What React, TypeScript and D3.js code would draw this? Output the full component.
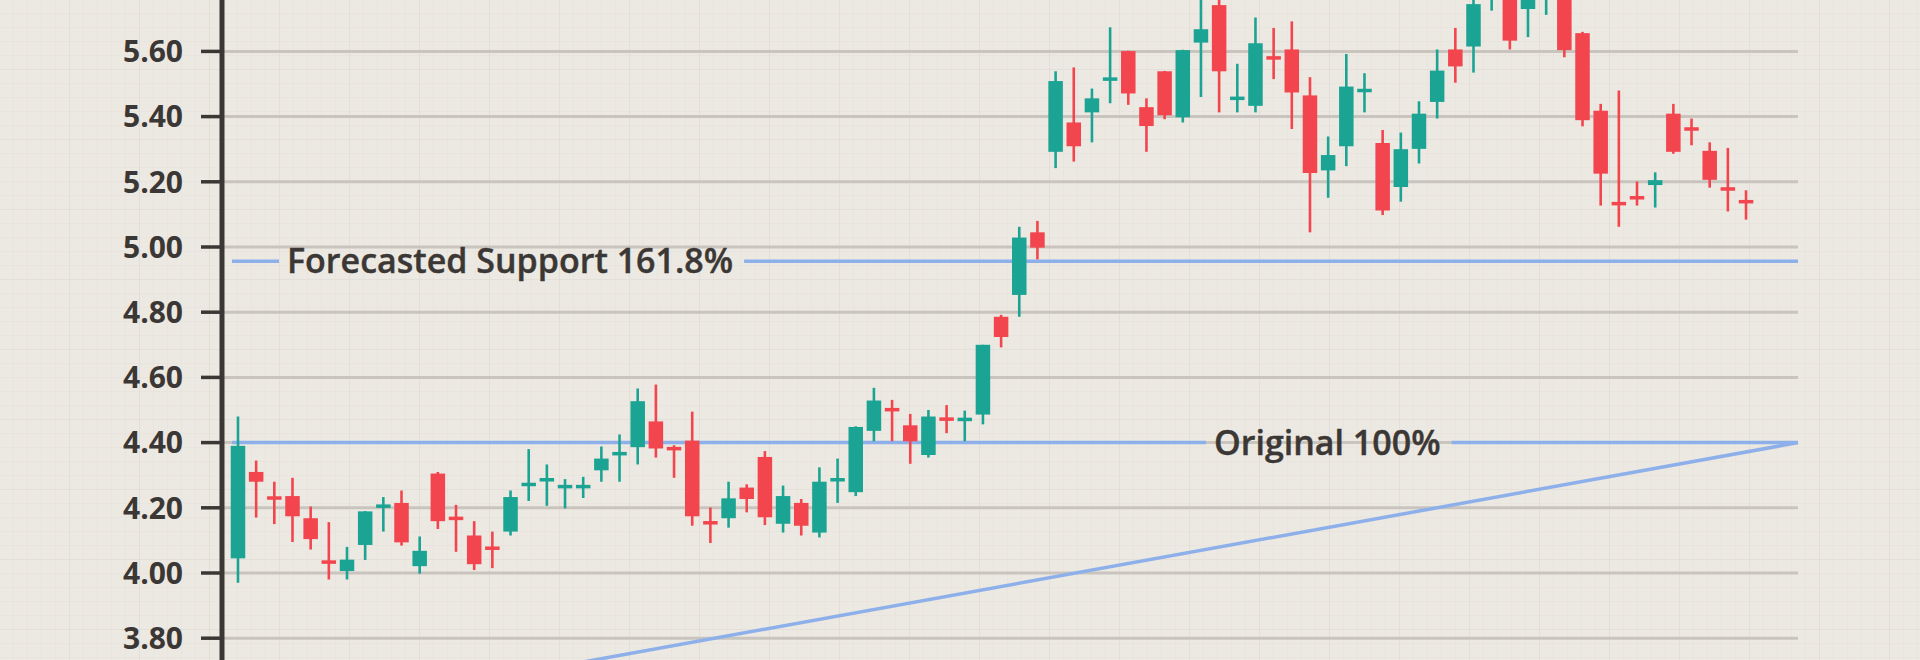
import React, { useLayoutEffect, useRef, useState } from "react";
import * as d3 from "d3";

// ---- data ----
const opens = [
  4.045, 4.31, 4.235, 4.236, 4.168, 4.037, 4.006, 4.086, 4.2, 4.215, 4.021, 4.305,
  4.17, 4.115, 4.078, 4.127, 4.268, 4.282, 4.262, 4.262, 4.315, 4.362, 4.386, 4.465,
  4.385, 4.406, 4.158, 4.168, 4.262, 4.356, 4.151, 4.215, 4.124, 4.282, 4.248, 4.436,
  4.505, 4.453, 4.362, 4.476, 4.466, 4.486, 4.786, 4.853, 5.045, 5.292, 5.382, 5.413,
  5.512, 5.601, 5.429, 5.539, 5.398, 5.627, 5.742, 5.452, 5.433, 5.584, 5.606, 5.465,
  5.235, 5.309, 5.476, 5.319, 5.184, 5.301, 5.445, 5.606, 5.615, 5.76, 5.8, 5.73,
  5.77, 5.78, 5.656, 5.418, 5.137, 5.155, 5.19, 5.409, 5.366, 5.295, 5.182, 5.143,
];
const highs = [
  4.48, 4.345, 4.28, 4.292, 4.204, 4.156, 4.08, 4.19, 4.233, 4.253, 4.112, 4.31,
  4.209, 4.159, 4.127, 4.253, 4.38, 4.333, 4.288, 4.295, 4.388, 4.425, 4.566, 4.578,
  4.392, 4.495, 4.201, 4.28, 4.272, 4.374, 4.268, 4.227, 4.324, 4.351, 4.45, 4.568,
  4.531, 4.488, 4.5, 4.515, 4.498, 4.7, 4.792, 5.062, 5.08, 5.539, 5.551, 5.486,
  5.674, 5.602, 5.456, 5.54, 5.605, 5.8, 5.79, 5.562, 5.704, 5.672, 5.692, 5.521,
  5.339, 5.592, 5.533, 5.359, 5.351, 5.447, 5.606, 5.672, 5.8, 5.85, 5.84, 5.81,
  5.83, 5.8, 5.66, 5.439, 5.48, 5.201, 5.229, 5.439, 5.394, 5.321, 5.304, 5.174,
];
const lows = [
  3.97, 4.17, 4.15, 4.095, 4.072, 3.98, 3.98, 4.04, 4.127, 4.084, 3.998, 4.135,
  4.065, 4.009, 4.015, 4.115, 4.221, 4.206, 4.198, 4.23, 4.28, 4.28, 4.333, 4.354,
  4.292, 4.145, 4.092, 4.139, 4.186, 4.147, 4.124, 4.115, 4.109, 4.215, 4.236, 4.404,
  4.404, 4.335, 4.354, 4.429, 4.404, 4.456, 4.692, 4.786, 4.962, 5.242, 5.262, 5.321,
  5.441, 5.436, 5.292, 5.392, 5.382, 5.46, 5.413, 5.413, 5.413, 5.515, 5.362, 5.045,
  5.151, 5.248, 5.413, 5.098, 5.139, 5.256, 5.394, 5.504, 5.535, 5.725, 5.606, 5.644,
  5.712, 5.582, 5.37, 5.127, 5.062, 5.127, 5.121, 5.286, 5.312, 5.182, 5.109, 5.084,
];
const closes = [
  4.39, 4.28, 4.225, 4.174, 4.104, 4.03, 4.041, 4.189, 4.21, 4.094, 4.068, 4.159,
  4.165, 4.027, 4.074, 4.233, 4.275, 4.29, 4.268, 4.268, 4.351, 4.37, 4.527, 4.382,
  4.378, 4.174, 4.15, 4.229, 4.227, 4.171, 4.236, 4.145, 4.28, 4.29, 4.448, 4.529,
  4.497, 4.404, 4.48, 4.468, 4.476, 4.7, 4.724, 5.029, 4.998, 5.509, 5.309, 5.456,
  5.518, 5.471, 5.371, 5.404, 5.604, 5.668, 5.539, 5.46, 5.625, 5.576, 5.474, 5.227,
  5.282, 5.492, 5.484, 5.112, 5.3, 5.409, 5.541, 5.554, 5.745, 5.82, 5.633, 5.78,
  5.8, 5.604, 5.389, 5.225, 5.129, 5.147, 5.205, 5.292, 5.358, 5.206, 5.174, 5.135,
];

const yTicks = [5.8, 5.6, 5.4, 5.2, 5.0, 4.8, 4.6, 4.4, 4.2, 4.0, 3.8];
const supportLevel = 4.956;
const supportLabel = "Forecasted Support 161.8%";
const originalLevel = 4.4;
const originalLabel = "Original 100%";
const trendStart = 3.527;
const trendEnd = 4.4;

const W = 1920;
const H = 660;
const GREEN = "#1ba493";
const RED = "#f3454d";
const BLUE = "#8db0ea";
const GRID = "#c9c4be";
const INK = "#3b3735";
const FONT = "'Open Sans', 'Noto Sans', sans-serif";

export default function App() {
  const n = opens.length;
  const axisX = 222;
  const plotRight = 1798;
  const x = d3.scaleLinear().domain([-0.88, n + 1.86]).range([axisX, plotRight]);
  const y = d3.scaleLinear().domain([5.8, 3.8]).range([-13.8, 638.2]);
  const bodyW = 14.5;

  const supRef = useRef<SVGTextElement>(null);
  const origRef = useRef<SVGTextElement>(null);
  const [supW, setSupW] = useState(440);
  const [origW, setOrigW] = useState(223);
  useLayoutEffect(() => {
    if (supRef.current) setSupW(supRef.current.getComputedTextLength());
    if (origRef.current) setOrigW(origRef.current.getComputedTextLength());
  }, []);

  const lineStart = 232;
  const supTextX = 287;
  const origTextX = 1214;
  const ySup = y(supportLevel);
  const yOrig = y(originalLevel);
  const labelSize = 34;

  const candles = d3.range(n).map((i) => ({
    i,
    o: opens[i],
    h: highs[i],
    l: lows[i],
    c: closes[i],
  }));

  return (
    <svg
      width={W}
      height={H}
      style={{ position: "absolute", left: 0, top: 0, display: "block" }}
    >
      <defs>
        <pattern id="minor" width={14} height={14} patternUnits="userSpaceOnUse">
          <path d="M14 0 V14 M0 14 H14" stroke="#e4dfd8" strokeWidth={1} fill="none" />
        </pattern>
        <pattern id="major" width={70} height={70} patternUnits="userSpaceOnUse">
          <rect width={70} height={70} fill="url(#minor)" />
          <path d="M70 0 V70 M0 70 H70" stroke="#dcd7cf" strokeWidth={1.2} fill="none" />
        </pattern>
      </defs>
      <rect width={W} height={H} fill="#ece8e2" />
      <rect width={W} height={H} fill="url(#major)" opacity={0.8} />

      {/* horizontal grid */}
      {yTicks.map((t) => (
        <line
          key={"g" + t}
          x1={axisX}
          x2={plotRight}
          y1={y(t)}
          y2={y(t)}
          stroke={GRID}
          strokeWidth={3}
        />
      ))}

      {/* trend line */}
      <line
        x1={x.range()[0]}
        x2={x.range()[1]}
        y1={y(trendStart)}
        y2={y(trendEnd)}
        stroke={BLUE}
        strokeWidth={3.5}
      />

      {/* support line + label */}
      <line x1={lineStart} x2={supTextX - 8} y1={ySup} y2={ySup} stroke={BLUE} strokeWidth={3.5} />
      <line x1={supTextX + supW + 11} x2={plotRight} y1={ySup} y2={ySup} stroke={BLUE} strokeWidth={3.5} />
      <text
        ref={supRef}
        x={supTextX}
        y={ySup + 0.35 * labelSize}
        fontFamily={FONT}
        fontWeight={600}
        fontSize={labelSize}
        fill={INK}
        stroke={INK}
        strokeWidth={0.4}
      >
        {supportLabel}
      </text>

      {/* original line + label */}
      <line x1={lineStart} x2={origTextX - 8} y1={yOrig} y2={yOrig} stroke={BLUE} strokeWidth={3.5} />
      <line x1={origTextX + origW + 11} x2={plotRight} y1={yOrig} y2={yOrig} stroke={BLUE} strokeWidth={3.5} />
      <text
        ref={origRef}
        x={origTextX}
        y={yOrig + 0.36 * labelSize}
        fontFamily={FONT}
        fontWeight={600}
        fontSize={labelSize}
        fill={INK}
        stroke={INK}
        strokeWidth={0.4}
      >
        {originalLabel}
      </text>

      {/* candles */}
      {candles.map((d) => {
        const cx = x(d.i);
        const up = d.c >= d.o;
        const col = up ? GREEN : RED;
        const top = y(Math.max(d.o, d.c));
        const bot = y(Math.min(d.o, d.c));
        const bh = Math.max(bot - top, 3.5);
        const by = bot - top < 3.5 ? (top + bot) / 2 - 1.75 : top;
        return (
          <g key={d.i}>
            <line x1={cx} x2={cx} y1={y(d.h)} y2={y(d.l)} stroke={col} strokeWidth={2.6} />
            <rect x={cx - bodyW / 2} y={by} width={bodyW} height={bh} fill={col} />
          </g>
        );
      })}

      {/* y axis */}
      <line x1={axisX} x2={axisX} y1={0} y2={H} stroke={INK} strokeWidth={5} />
      {yTicks.map((t) => (
        <g key={"t" + t}>
          <line x1={201} x2={axisX} y1={y(t)} y2={y(t)} stroke={INK} strokeWidth={3.5} />
          <text
            x={183}
            y={y(t) + 10.7}
            textAnchor="end"
            fontFamily={FONT}
            fontWeight={700}
            fontSize={30}
            fill={INK}
          >
            {t.toFixed(2)}
          </text>
        </g>
      ))}
    </svg>
  );
}
